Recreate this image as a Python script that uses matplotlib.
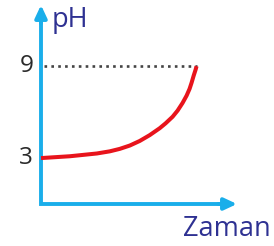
import matplotlib.pyplot as plt

# pH change over time
zaman = [0, 1.86, 3.59, 4.42, 5.06, 5.71, 6.35, 6.99, 7.63, 8.01, 8.46,
         8.78, 9.10, 9.36, 9.55, 9.68, 9.81, 9.94, 10.0]
ph = [3.0, 3.12, 3.3, 3.44, 3.6, 3.82, 4.12, 4.5, 4.95, 5.27, 5.7,
      6.1, 6.6, 7.08, 7.52, 7.92, 8.37, 8.78, 9.0]
ph_ticks = [3, 9]

axis_blue = "#1aaeea"
text_blue = "#2e3192"
curve_red = "#e8141c"

W, H = 274, 246
fig = plt.figure(figsize=(W / 100, H / 100), dpi=100)
ax = fig.add_axes([41 / W, (H - 204) / H, (237 - 41) / W, (204 - 5) / H])
ax.set_xlim(0, 12.6)
ax.set_ylim(0, 13)
ax.axis("off")

# axes with arrow heads
ax.plot([0, 0, 11.9], [12.3, 0, 0], color=axis_blue, lw=2.8,
        solid_joinstyle="miter", solid_capstyle="butt", clip_on=False)
ax.annotate("", xy=(0, 13), xytext=(0, 11.8),
            arrowprops=dict(arrowstyle="-|>,head_length=0.75,head_width=0.35",
                            color=axis_blue, lw=2.8, shrinkA=0, shrinkB=0),
            annotation_clip=False)
ax.annotate("", xy=(12.6, 0), xytext=(11.4, 0),
            arrowprops=dict(arrowstyle="-|>,head_length=0.75,head_width=0.35",
                            color=axis_blue, lw=2.8, shrinkA=0, shrinkB=0),
            annotation_clip=False)

# dotted guide at pH 9
ax.plot([0.2, zaman[-1]], [ph[-1], ph[-1]], color="#444444", lw=1.9,
        linestyle=(0, (1.0, 1.6)), clip_on=False)

# curve
ax.plot(zaman, ph, color=curve_red, lw=2.9, solid_capstyle="butt",
        solid_joinstyle="round", clip_on=False)

for t in ph_ticks:
    ax.text(-0.5, t, str(t), ha="right", va="center", fontsize=17.5,
            color="#2a2a2a", family="Open Sans")

ax.text(0.7, 11.55, "pH", ha="left", va="baseline", fontsize=19.5,
        color=text_blue, family="Open Sans")
ax.text(14.75, -2.09, "Zaman", ha="right", va="baseline", fontsize=19.5,
        color=text_blue, family="Open Sans")

fig.savefig("out.png", dpi=100)
